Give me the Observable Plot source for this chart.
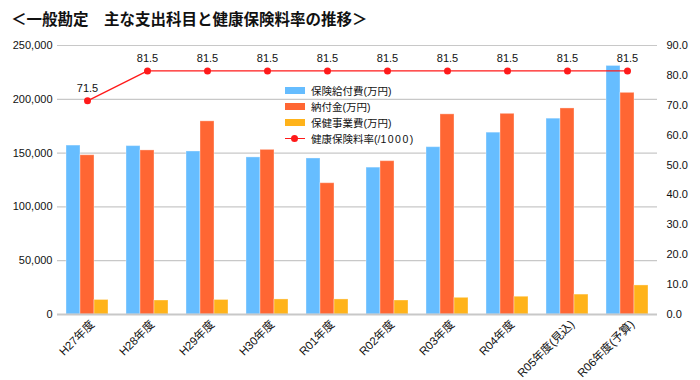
<!DOCTYPE html>
<html>
<head>
<meta charset="utf-8">
<script src="https://cdn.jsdelivr.net/npm/d3@7"></script>
<script src="https://cdn.jsdelivr.net/npm/@observablehq/plot@0.6"></script>
<style>
  html, body { margin: 0; padding: 0; background: #fff; }
  body { width: 700px; height: 380px; position: relative; overflow: hidden;
         font-family: "Liberation Sans", Arial, "Noto Sans CJK JP", sans-serif; }
  #title { height: 32px; box-sizing: border-box; padding: 7px 0 0 11px;
           font-size: 15.5px; font-weight: bold; color: #111; white-space: pre; }
  #legend { position: absolute; left: 285px; top: 82px; font-size: 10.5px; color: #111; }
  .row { display: flex; align-items: center; height: 16px; }
  .sw { width: 20px; height: 7px; margin-right: 6px; }
  .ln { width: 20px; height: 7px; margin-right: 6px; position: relative; }
  .ln::before { content: ""; position: absolute; left: 0; right: 0; top: 3px; height: 1.5px; background: #ff1a1a; }
  .ln::after { content: ""; position: absolute; left: 6px; top: 0; width: 7px; height: 7px; border-radius: 50%; background: #ff1a1a; }
  .wide { letter-spacing: 1.5px; }
  #chart svg { overflow: visible; }
</style>
</head>
<body>
<div id="title">＜一般勘定　主な支出科目と健康保険料率の推移＞</div>
<div id="chart"></div>
<div id="legend"></div>
<script>
const categories = ["H27年度","H28年度","H29年度","H30年度","R01年度","R02年度","R03年度","R04年度","R05年度(見込)","R06年度(予算)"];
const benefits = [157000,156500,151500,146000,145000,136500,155500,169000,182000,231000];
const contributions = [148000,152500,179500,153000,122000,142500,186000,186500,191500,206000];
const healthProjects = [13500,13000,13500,14000,14000,13000,15500,16500,18500,27000];
const rates = [71.5,81.5,81.5,81.5,81.5,81.5,81.5,81.5,81.5,81.5];
const seriesNames = ["保険給付費(万円)","納付金(万円)","保健事業費(万円)","健康保険料率(/1000)"];
const leftTicks = [0,50000,100000,150000,200000,250000];
const rightTicks = [0,10,20,30,40,50,60,70,80,90];

const colors = ["#66bdff","#ff6633","#ffb31a"];
const lineColor = "#ff1a1a";

const W = 700, H = 348;
const mL = 57, mR = 43, mT = 13, mB = 66;
const K = 250000 / 90; // right axis -> left axis
const step = (W - mL - mR) / categories.length; // band width with no padding
const barW = step * 0.7 / 3;
const outer = step * 0.15;

const seriesValues = [benefits, contributions, healthProjects];
const bars = seriesValues.map((vals, i) =>
  Plot.barY(categories.map((c, j) => ({c, v: vals[j]})), {
    x: "c", y: "v", fill: colors[i],
    stroke: "#ffffff", strokeOpacity: 0.35, strokeWidth: 1,
    insetLeft: outer + i * barW, insetRight: outer + (2 - i) * barW
  })
);
const rateData = categories.map((c, j) => ({c, r: rates[j] * K, label: rates[j].toFixed(1)}));

const chart = Plot.plot({
  width: W, height: H,
  marginLeft: mL, marginRight: mR, marginTop: mT, marginBottom: mB,
  style: {fontFamily: '"Liberation Sans", Arial, "Noto Sans CJK JP", sans-serif', fontSize: "11px", color: "#111", background: "#fff"},
  x: {domain: categories, padding: 0, label: null},
  y: {domain: [0, 250000], label: null},
  marks: [
    Plot.ruleY(leftTicks.slice(1), {stroke: "#c8c8c8", strokeWidth: 1.2}),
    ...bars,
    Plot.ruleY([0], {stroke: "#c8c8c8", strokeWidth: 2}),
    Plot.axisY(leftTicks, {anchor: "left", tickSize: 0, tickPadding: 5, tickFormat: d => d3.format(",")(d), label: null, fontSize: 11}),
    Plot.axisY(rightTicks.map(v => v * K), {anchor: "right", tickSize: 0, tickPadding: 9, tickFormat: d => (Math.round(d / K * 10) / 10).toFixed(1), label: null, fontSize: 11}),
    Plot.axisX({tickRotate: -45, tickSize: 0, tickPadding: 8, dx: 5, label: null, fontSize: 11.5}),
    Plot.line(rateData, {x: "c", y: "r", stroke: lineColor, strokeWidth: 1.3}),
    Plot.dot(rateData, {x: "c", y: "r", r: 3.5, fill: lineColor}),
    Plot.text(rateData, {x: "c", y: "r", text: "label", dy: -12, fontSize: 11, fill: "#111"})
  ]
});
document.getElementById("chart").appendChild(chart);

const legend = document.getElementById("legend");
seriesNames.forEach((name, i) => {
  const row = document.createElement("div");
  row.className = "row";
  const sw = document.createElement("span");
  if (i < 3) { sw.className = "sw"; sw.style.background = colors[i]; }
  else { sw.className = "ln"; }
  row.appendChild(sw);
  const t = document.createElement("span");
  if (i === 3) {
    const m = name.match(/^(.*\(\/)(\d+)(\))$/);
    t.appendChild(document.createTextNode(m[1]));
    const d = document.createElement("span");
    d.className = "wide";
    d.textContent = m[2];
    t.appendChild(d);
    t.appendChild(document.createTextNode(m[3]));
  } else {
    t.textContent = name;
  }
  row.appendChild(t);
  legend.appendChild(row);
});
</script>
</body>
</html>
